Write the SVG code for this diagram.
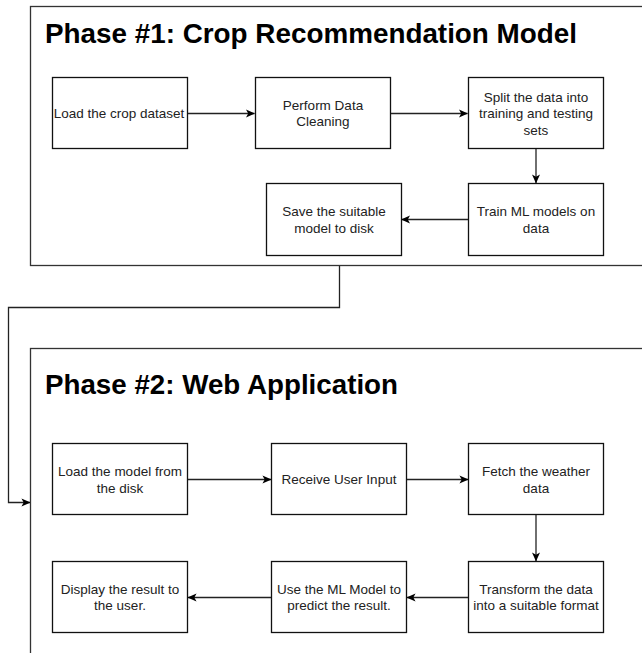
<svg xmlns="http://www.w3.org/2000/svg" width="642" height="653" viewBox="0 0 642 653">
  <defs>
    <marker id="arrow" viewBox="0 0 10 9" refX="9.5" refY="4.5" markerWidth="9" markerHeight="8.5" markerUnits="userSpaceOnUse" orient="auto">
      <path d="M0,0 L10,4.5 L0,9 L2.5,4.5 Z" fill="#000"/>
    </marker>
    <style>
      .frame { fill: #fff; stroke: #333; stroke-width: 1.3; }
      .box { fill: #fff; stroke: #111; stroke-width: 1.3; }
      .title { font-family: "Liberation Sans", Arial, sans-serif; font-weight: bold; font-size: 28px; fill: #000; }
      .lbl { font-family: "Liberation Sans", Arial, sans-serif; font-size: 13.5px; fill: #222; text-anchor: middle; }
      .edge { fill: none; stroke: #222; stroke-width: 1.3; }
    </style>
  </defs>
  <rect width="642" height="653" fill="#fff"/>

  <!-- Phase 1 container -->
  <g id="phase1">
    <rect class="frame" x="30.5" y="6.5" width="640" height="259"/>
    <text class="title" x="45" y="43" textLength="532" lengthAdjust="spacingAndGlyphs">Phase #1: Crop Recommendation Model</text>
  </g>

  <!-- Phase 2 container -->
  <g id="phase2">
    <rect class="frame" x="30.5" y="348.5" width="640" height="330"/>
    <text class="title" x="45" y="394" textLength="353" lengthAdjust="spacingAndGlyphs">Phase #2: Web Application</text>
  </g>

  <!-- Phase 1 steps -->
  <g id="load-dataset">
    <rect class="box" x="52.5" y="77.5" width="135" height="71"/>
    <text class="lbl" x="119" y="118">Load the crop dataset</text>
  </g>
  <g id="data-cleaning">
    <rect class="box" x="255.5" y="77.5" width="135" height="71"/>
    <text class="lbl" x="323" y="109.5">Perform Data</text>
    <text class="lbl" x="323" y="126">Cleaning</text>
  </g>
  <g id="split-data">
    <rect class="box" x="468.5" y="77.5" width="135" height="71"/>
    <text class="lbl" x="536" y="101.5">Split the data into</text>
    <text class="lbl" x="536" y="118">training and testing</text>
    <text class="lbl" x="536" y="134.5">sets</text>
  </g>
  <g id="train-models">
    <rect class="box" x="468.5" y="183.5" width="135" height="72"/>
    <text class="lbl" x="536" y="216">Train ML models on</text>
    <text class="lbl" x="536" y="232.5">data</text>
  </g>
  <g id="save-model">
    <rect class="box" x="266.5" y="183.5" width="135" height="72"/>
    <text class="lbl" x="334" y="216">Save the suitable</text>
    <text class="lbl" x="334" y="232.5">model to disk</text>
  </g>

  <!-- Phase 2 steps -->
  <g id="load-model">
    <rect class="box" x="52.5" y="443.5" width="135" height="71"/>
    <text class="lbl" x="120" y="476">Load the model from</text>
    <text class="lbl" x="120" y="492.5">the disk</text>
  </g>
  <g id="user-input">
    <rect class="box" x="271.5" y="443.5" width="135" height="71"/>
    <text class="lbl" x="339" y="483.5">Receive User Input</text>
  </g>
  <g id="fetch-weather">
    <rect class="box" x="468.5" y="443.5" width="135" height="71"/>
    <text class="lbl" x="536" y="476">Fetch the weather</text>
    <text class="lbl" x="536" y="492.5">data</text>
  </g>
  <g id="transform-data">
    <rect class="box" x="468.5" y="561.5" width="135" height="71"/>
    <text class="lbl" x="536" y="593.5">Transform the data</text>
    <text class="lbl" x="536" y="610">into a suitable format</text>
  </g>
  <g id="predict">
    <rect class="box" x="271.5" y="561.5" width="135" height="71"/>
    <text class="lbl" x="339" y="593.5">Use the ML Model to</text>
    <text class="lbl" x="339" y="610">predict the result.</text>
  </g>
  <g id="display-result">
    <rect class="box" x="52.5" y="561.5" width="135" height="71"/>
    <text class="lbl" x="120" y="593.5">Display the result to</text>
    <text class="lbl" x="120" y="610">the user.</text>
  </g>

  <!-- Connectors -->
  <g id="connectors">
    <path class="edge" d="M188,113.5 H254.5" marker-end="url(#arrow)"/>
    <path class="edge" d="M391,113.5 H467.5" marker-end="url(#arrow)"/>
    <path class="edge" d="M536,149 V183" marker-end="url(#arrow)"/>
    <path class="edge" d="M468,219.5 H401.5" marker-end="url(#arrow)"/>
    <path class="edge" d="M339.5,266 V307.5 H8.5 V502.5 H30" marker-end="url(#arrow)"/>
    <path class="edge" d="M188,479.5 H271" marker-end="url(#arrow)"/>
    <path class="edge" d="M407,479.5 H468" marker-end="url(#arrow)"/>
    <path class="edge" d="M536,515 V561" marker-end="url(#arrow)"/>
    <path class="edge" d="M468,597.5 H407" marker-end="url(#arrow)"/>
    <path class="edge" d="M271,597.5 H188" marker-end="url(#arrow)"/>
  </g>
</svg>
